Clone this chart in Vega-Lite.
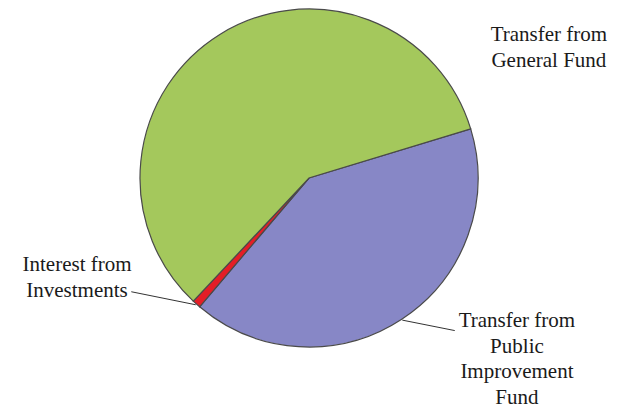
{
  "$schema": "https://vega.github.io/schema/vega-lite/v6.json",
  "width": 618,
  "height": 356,
  "autosize": {"type": "pad"},
  "padding": 0,
  "background": "white",
  "config": {"view": {"stroke": null}},
  "data": {
    "values": [
      {"source": "Transfer from Public Improvement Fund", "label": "Transfer from\nPublic\nImprovement\nFund", "value": 40.9, "rank": 1},
      {"source": "Interest from Investments", "label": "Interest from\nInvestments", "value": 0.8, "rank": 2},
      {"source": "Transfer from General Fund", "label": "Transfer from\nGeneral Fund", "value": 58.3, "rank": 3}
    ]
  },
  "layer": [
    {
      "mark": {"type": "arc", "radius": 169, "stroke": "#4a4a4a", "strokeWidth": 1.2},
      "encoding": {
        "theta": {"field": "value", "type": "quantitative", "stack": true, "scale": {"range": [1.2758, 7.559]}},
        "order": {"field": "rank", "type": "quantitative"},
        "color": {
          "field": "source",
          "type": "nominal",
          "legend": null,
          "scale": {
            "domain": ["Transfer from Public Improvement Fund", "Interest from Investments", "Transfer from General Fund"],
            "range": ["#8787C6", "#E41E26", "#A4C85C"]
          }
        }
      }
    },
    {
      "mark": {
        "type": "text",
        "font": "Liberation Serif",
        "fontSize": 21,
        "lineHeight": 25.5,
        "lineBreak": "\n",
        "color": "#1a1a1a",
        "align": "center",
        "baseline": "middle",
        "radius": {"expr": "datum.rank == 1 ? 252.4 : datum.rank == 2 ? 247.8 : 279.1"},
        "thetaOffset": {"expr": "datum.rank == 1 ? -0.3873 : datum.rank == 2 ? 0.4824 : 1.590"}
      },
      "encoding": {
        "theta": {"field": "value", "type": "quantitative", "stack": true},
        "order": {"field": "rank", "type": "quantitative"},
        "text": {"field": "label", "type": "nominal"}
      }
    },
    {
      "transform": [
        {"joinaggregate": [{"op": "sum", "field": "value", "as": "total"}]},
        {"stack": "value", "groupby": [], "sort": [{"field": "rank", "order": "ascending"}], "as": ["v0", "v1"]},
        {"filter": "datum.rank <= 2"},
        {"calculate": "1.2758 + PI * (datum.v0 + datum.v1) / datum.total", "as": "mid"},
        {"calculate": "datum.mid + (datum.rank == 1 ? -0.1817 : 0.2723)", "as": "endAngle"},
        {"calculate": "width / 2 + 170 * sin(datum.mid)", "as": "lx"},
        {"calculate": "height / 2 - 170 * cos(datum.mid)", "as": "ly"},
        {"calculate": "width / 2 + 211 * sin(datum.endAngle)", "as": "lx2"},
        {"calculate": "height / 2 - 211 * cos(datum.endAngle)", "as": "ly2"}
      ],
      "mark": {"type": "rule", "color": "#333333", "strokeWidth": 1},
      "encoding": {
        "x": {"field": "lx", "type": "quantitative", "scale": null, "axis": null},
        "y": {"field": "ly", "type": "quantitative", "scale": null, "axis": null},
        "x2": {"field": "lx2"},
        "y2": {"field": "ly2"}
      }
    }
  ]
}
